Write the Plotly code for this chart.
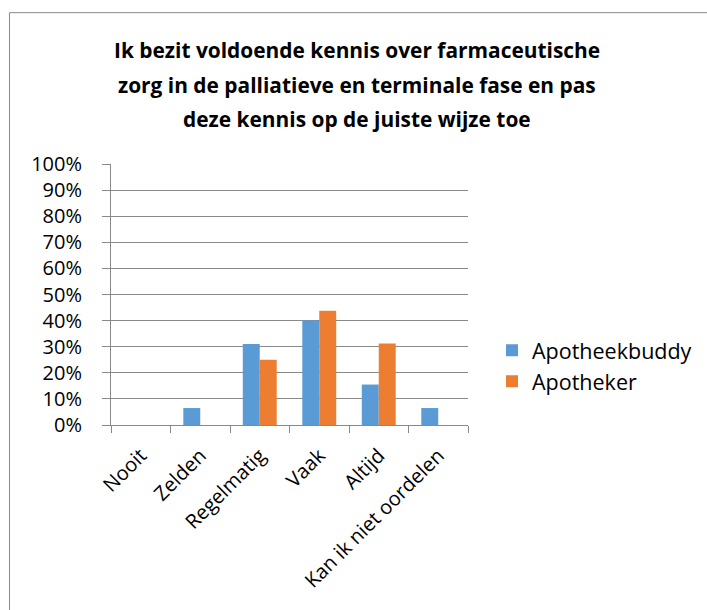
import plotly.graph_objects as go

categories = ["Nooit", "Zelden", "Regelmatig", "Vaak", "Altijd", "Kan ik niet oordelen"]
apotheekbuddy = [0, 6.5, 31.0, 40.0, 15.5, 6.5]
apotheker = [0, 0, 25.0, 43.75, 31.25, 0]
series_names = ["Apotheekbuddy", "Apotheker"]
title_lines = [
    "Ik bezit voldoende kennis over farmaceutische",
    "zorg in de palliatieve en terminale fase en pas",
    "deze kennis op de juiste wijze toe",
]
y_ticks = [0, 10, 20, 30, 40, 50, 60, 70, 80, 90, 100]

W, H = 707, 610
L, R, T, B = 111, 468, 164, 425.3
FONT = "Open Sans, Calibri, sans-serif"

fig = go.Figure()
fig.add_trace(go.Bar(name=series_names[0], x=categories, y=apotheekbuddy,
                     marker=dict(color="#5B9BD5", line=dict(width=0))))
fig.add_trace(go.Bar(name=series_names[1], x=categories, y=apotheker,
                     marker=dict(color="#ED7D31", line=dict(width=0))))

def px_x(p):
    return (p - L) / (R - L)

def px_y(p):
    return (B - p) / (B - T)

title_y = [50, 85, 119]
annotations = [
    dict(text=f"<b>{line}</b>", x=px_x(357), y=px_y(yy), xref="paper", yref="paper",
         xanchor="center", yanchor="middle", showarrow=False,
         font=dict(family=FONT, size=20.9, color="#000000"))
    for line, yy in zip(title_lines, title_y)
]

fig.update_layout(
    width=W, height=H,
    margin=dict(l=L, r=W - R, t=T, b=H - B, pad=0, autoexpand=False),
    paper_bgcolor="white", plot_bgcolor="white",
    barmode="group", bargap=0.43, bargroupgap=0,
    font=dict(family=FONT, size=20, color="#000000"),
    annotations=annotations,
    showlegend=True,
    legend=dict(x=px_x(492), y=px_y(366), xref="paper", yref="paper",
                xanchor="left", yanchor="middle",
                font=dict(family=FONT, size=21.5, color="#000000"),
                bgcolor="rgba(0,0,0,0)", itemwidth=30),
    xaxis=dict(type="category", showgrid=False, showline=True,
               linecolor="#898989", linewidth=1, ticks="outside",
               tickson="boundaries", ticklen=7, tickcolor="#898989",
               tickangle=-45, ticklabelstandoff=10,
               tickfont=dict(family=FONT, size=20, color="#000000"),
               range=[-0.5, 5.5], automargin=False),
    yaxis=dict(range=[0, 100], tickvals=y_ticks,
               ticktext=[f"{v}%" for v in y_ticks],
               showgrid=True, gridcolor="#898989", gridwidth=1,
               showline=True, linecolor="#898989", linewidth=1,
               ticks="outside", ticklen=8, tickcolor="#898989",
               ticklabelstandoff=16,
               tickfont=dict(family=FONT, size=20, color="#000000"),
               zeroline=False, automargin=False),
    shapes=[dict(type="rect", xref="paper", yref="paper",
                 x0=px_x(9.5), x1=px_x(730), y0=px_y(640), y1=px_y(12.5),
                 line=dict(color="#898989", width=1), fillcolor="rgba(0,0,0,0)",
                 layer="below")],
)

fig.write_html("out.html", config={"displayModeBar": False},
               post_script="document.body.style.margin='0';document.body.style.overflow='hidden';")
